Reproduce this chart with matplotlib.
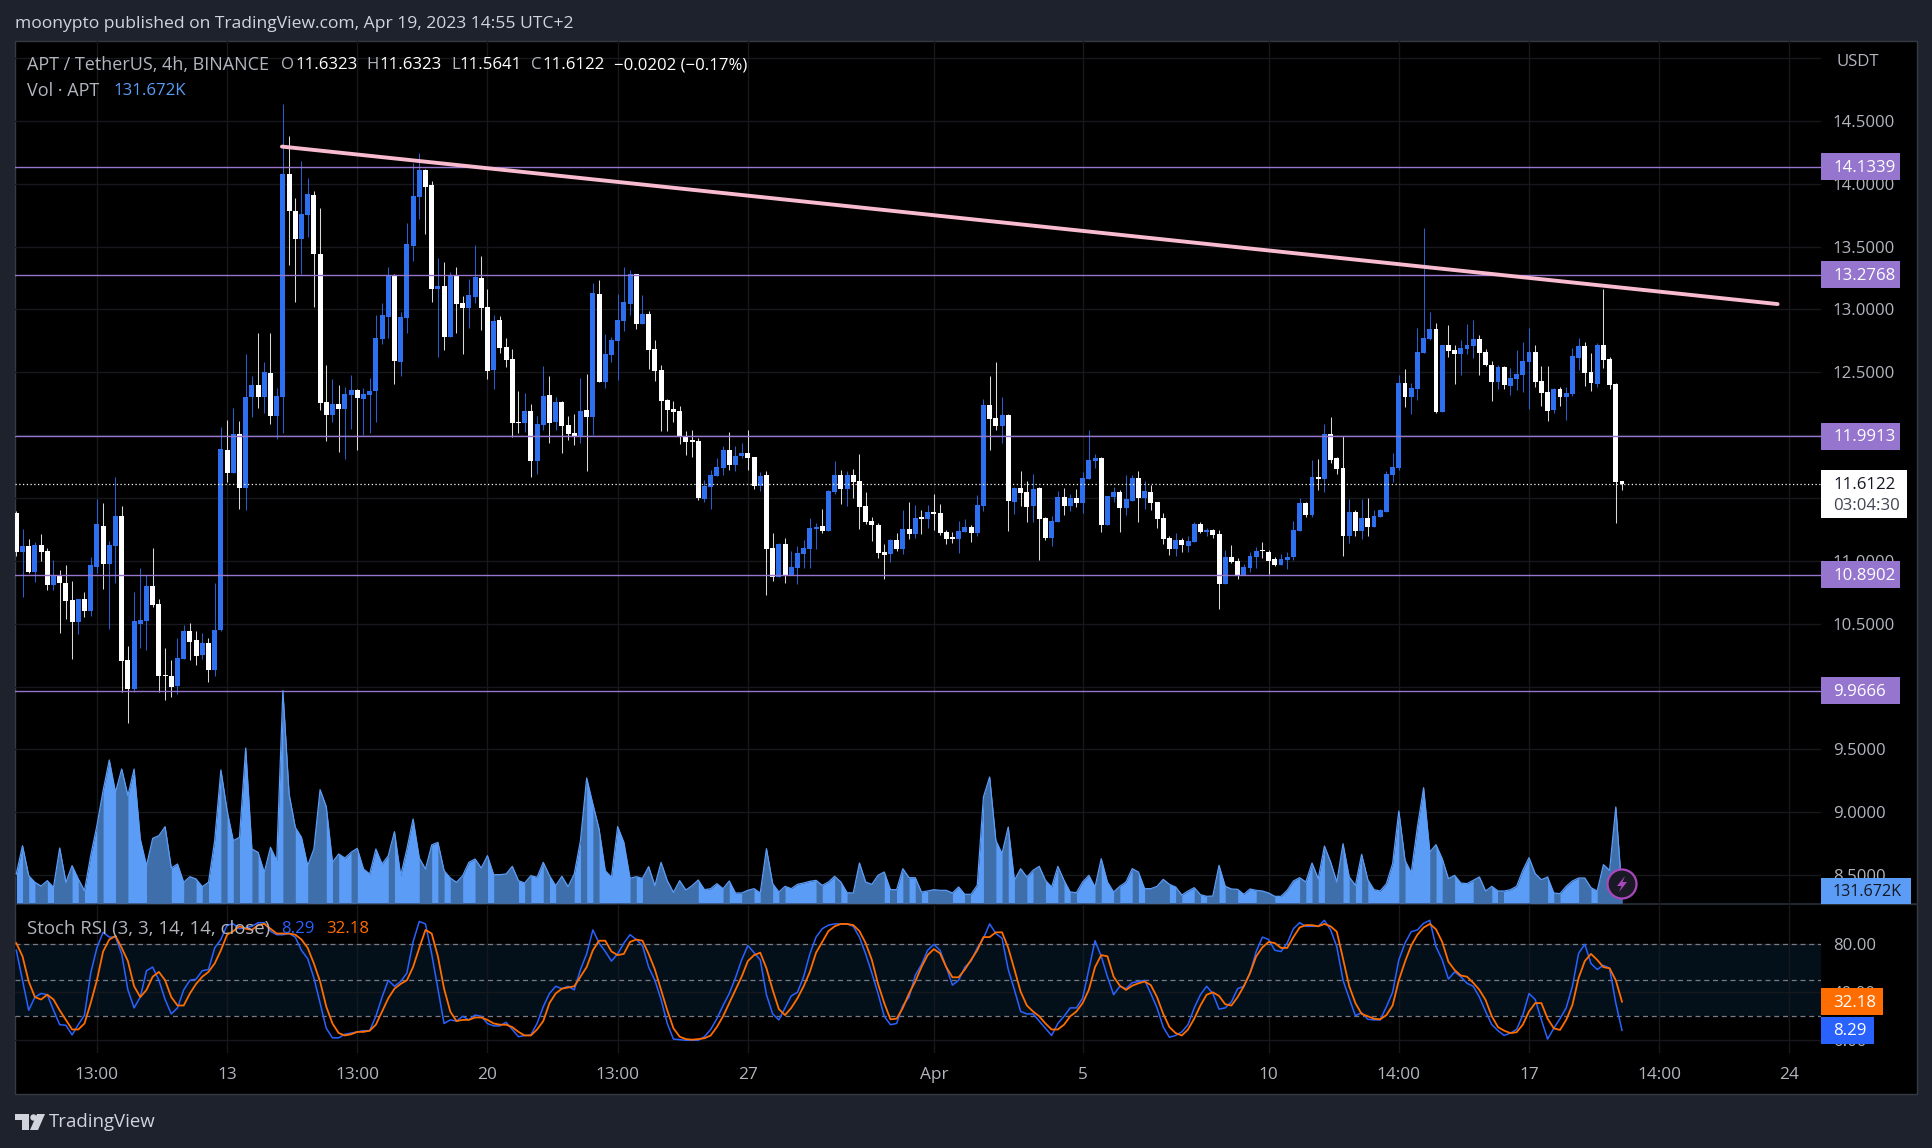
import matplotlib
matplotlib.use("Agg")
import matplotlib.pyplot as plt
import matplotlib.transforms as mtrans
from matplotlib.patches import Circle, Polygon, Rectangle

plt.rcParams['font.family'] = ['Open Sans', 'DejaVu Sans']

W, H = 1932, 1148

# 4h candles
opens = [
    11.38, 11.07, 11.12, 10.91, 11.13, 11.08, 10.81, 10.89, 10.82, 10.69,
    10.51, 10.70, 10.60, 10.95, 11.28, 10.975, 11.12, 11.36, 10.21, 9.98,
    10.50, 10.52, 10.80, 10.66, 10.085, 10.08, 10.005, 10.22, 10.44, 10.37,
    10.25, 10.35, 10.13, 10.45, 11.88, 11.70, 12.01, 11.58, 12.30, 12.40,
    12.30, 12.495, 12.155, 12.30, 14.08, 13.78, 13.56, 13.75, 13.91, 13.44,
    12.265, 12.16, 12.25, 12.21, 12.32, 12.36, 12.29, 12.32, 12.35, 12.765,
    12.94, 13.274, 12.58, 12.932, 13.505, 13.895, 14.11, 13.99, 13.163, 13.187,
    12.78, 13.274, 13.05, 13.01, 13.10, 13.25, 13.02, 12.52, 12.917, 12.70,
    12.607, 12.103, 12.097, 12.193, 11.795, 12.08, 12.32, 12.105, 12.264, 12.08,
    12.018, 11.986, 12.201, 12.145, 13.124, 12.424, 12.638, 12.75, 12.909, 13.044,
    13.283, 12.885, 12.965, 12.686, 12.519, 12.28, 12.209, 12.193, 11.994, 11.95,
    11.954, 11.493, 11.588, 11.676, 11.74, 11.883, 11.763, 11.835, 11.859, 11.827,
    11.596, 11.684, 11.103, 10.872, 11.135, 10.888, 10.944, 11.055, 11.095, 11.254,
    11.278, 11.238, 11.548, 11.684, 11.572, 11.684, 11.636, 11.437, 11.318, 11.286,
    11.071, 11.055, 11.166, 11.095, 11.254, 11.214, 11.343, 11.334, 11.389, 11.381,
    11.23, 11.19, 11.174, 11.23, 11.27, 11.222, 11.437, 12.24, 12.137, 12.073,
    12.161, 11.469, 11.58, 11.548, 11.437, 11.58, 11.341, 11.182, 11.31, 11.509,
    11.437, 11.5, 11.461, 11.652, 11.795, 11.819, 11.286, 11.509, 11.548, 11.421,
    11.477, 11.66, 11.5, 11.548, 11.469, 11.341, 11.182, 11.095, 11.166, 11.118,
    11.15, 11.294, 11.23, 11.246, 11.214, 10.816, 11.031, 10.999, 10.888, 10.944,
    11.031, 11.08, 11.071, 11.015, 10.967, 11.007, 11.031, 11.238, 11.461, 11.365,
    11.668, 11.652, 12.01, 11.819, 11.739, 11.198, 11.389, 11.238, 11.341, 11.27,
    11.35, 11.39, 11.683, 11.738, 12.415, 12.303, 12.367, 12.653, 12.765, 12.844,
    12.184, 12.717, 12.677, 12.645, 12.685, 12.709, 12.765, 12.661, 12.558, 12.423,
    12.542, 12.391, 12.447, 12.479, 12.582, 12.661, 12.431, 12.343, 12.2, 12.367,
    12.303, 12.327, 12.614, 12.709, 12.502, 12.407, 12.717, 12.606, 12.407, 11.6323,
]
closes = [
    11.07, 11.12, 10.91, 11.13, 11.07, 10.81, 10.89, 10.82, 10.68, 10.51,
    10.70, 10.60, 10.97, 11.29, 10.975, 11.13, 11.36, 10.20, 9.98, 10.52,
    10.53, 10.80, 10.65, 10.08, 10.08, 10.0, 10.23, 10.44, 10.355, 10.24,
    10.35, 10.13, 10.45, 11.89, 11.70, 12.01, 11.58, 12.30, 12.40, 12.30,
    12.505, 12.155, 12.31, 14.08, 13.78, 13.56, 13.76, 13.92, 13.44, 12.256,
    12.16, 12.25, 12.21, 12.33, 12.36, 12.295, 12.33, 12.35, 12.773, 12.956,
    13.274, 12.59, 12.94, 13.52, 13.903, 14.11, 13.975, 13.163, 13.187, 12.78,
    13.274, 13.044, 13.01, 13.115, 13.258, 13.01, 12.51, 12.91, 12.694, 12.60,
    12.097, 12.095, 12.193, 11.795, 12.09, 12.312, 12.097, 12.264, 12.073, 12.01,
    11.994, 12.193, 12.145, 13.132, 12.424, 12.646, 12.758, 12.917, 13.06, 13.283,
    12.885, 12.965, 12.678, 12.511, 12.272, 12.2, 12.185, 11.986, 11.946, 11.946,
    11.5, 11.596, 11.684, 11.747, 11.883, 11.763, 11.835, 11.859, 11.819, 11.596,
    11.676, 11.095, 10.872, 11.135, 10.888, 10.951, 11.063, 11.103, 11.262, 11.27,
    11.238, 11.556, 11.684, 11.572, 11.684, 11.628, 11.429, 11.31, 11.286, 11.063,
    11.047, 11.166, 11.095, 11.254, 11.214, 11.341, 11.336, 11.389, 11.373, 11.222,
    11.174, 11.174, 11.238, 11.27, 11.222, 11.445, 12.24, 12.129, 12.073, 12.161,
    11.477, 11.58, 11.54, 11.429, 11.572, 11.333, 11.182, 11.318, 11.509, 11.437,
    11.5, 11.461, 11.66, 11.803, 11.819, 11.286, 11.516, 11.548, 11.421, 11.493,
    11.66, 11.5, 11.556, 11.461, 11.333, 11.174, 11.095, 11.166, 11.126, 11.158,
    11.294, 11.23, 11.246, 11.206, 10.816, 11.031, 10.991, 10.888, 10.951, 11.039,
    11.079, 11.075, 10.999, 10.967, 11.015, 11.031, 11.246, 11.461, 11.365, 11.668,
    11.652, 12.01, 11.803, 11.731, 11.198, 11.389, 11.238, 11.341, 11.27, 11.357,
    11.405, 11.691, 11.746, 12.415, 12.303, 12.375, 12.661, 12.773, 12.844, 12.184,
    12.717, 12.669, 12.645, 12.693, 12.717, 12.765, 12.653, 12.558, 12.423, 12.542,
    12.399, 12.455, 12.487, 12.59, 12.661, 12.423, 12.335, 12.192, 12.367, 12.303,
    12.335, 12.63, 12.709, 12.494, 12.415, 12.717, 12.598, 12.399, 11.627, 11.6122,
]
highs = [
    11.40, 11.25, 11.17, 11.15, 11.21, 11.10, 11.01, 10.93, 10.97, 10.84,
    10.70, 10.75, 11.03, 11.49, 11.46, 11.16, 11.67, 11.44, 10.32, 10.75,
    10.94, 10.89, 11.10, 10.70, 10.31, 10.21, 10.39, 10.49, 10.505, 10.44,
    10.43, 10.39, 10.82, 12.065, 12.12, 12.22, 12.11, 12.646, 12.47, 12.81,
    12.58, 12.81, 12.373, 14.635, 14.38, 13.887, 14.18, 14.05, 13.94, 13.81,
    12.558, 12.447, 12.40, 12.383, 12.48, 12.37, 12.375, 12.455, 12.956, 13.05,
    13.338, 13.28, 12.98, 13.688, 14.166, 14.245, 14.12, 14.02, 13.41, 13.378,
    13.30, 13.338, 13.107, 13.243, 13.513, 13.426, 13.164, 12.957, 12.949, 12.774,
    12.686, 12.352, 12.336, 12.248, 12.153, 12.551, 12.471, 12.304, 12.272, 12.153,
    12.169, 12.455, 12.487, 13.211, 13.235, 12.806, 12.782, 13.124, 13.339, 13.315,
    13.283, 13.116, 12.989, 12.758, 12.559, 12.288, 12.272, 12.233, 12.034, 12.042,
    11.978, 11.64, 11.724, 11.816, 11.914, 12.026, 11.914, 11.938, 12.042, 11.83,
    11.707, 11.715, 11.222, 11.143, 11.182, 11.079, 11.12, 11.166, 11.342, 11.302,
    11.413, 11.56, 11.795, 11.723, 11.715, 11.731, 11.851, 11.548, 11.35, 11.302,
    11.134, 11.17, 11.222, 11.405, 11.469, 11.445, 11.405, 11.445, 11.532, 11.453,
    11.246, 11.23, 11.318, 11.334, 11.286, 11.524, 12.288, 12.471, 12.583, 12.304,
    12.17, 11.588, 11.715, 11.636, 11.691, 11.584, 11.35, 11.357, 11.556, 11.58,
    11.532, 11.572, 11.707, 12.042, 11.851, 11.825, 11.52, 11.588, 11.564, 11.683,
    11.684, 11.715, 11.636, 11.604, 11.47, 11.381, 11.198, 11.222, 11.182, 11.198,
    11.31, 11.31, 11.262, 11.254, 11.246, 11.087, 11.126, 11.023, 10.975, 11.071,
    11.111, 11.15, 11.087, 11.031, 11.055, 11.071, 11.318, 11.501, 11.47, 11.803,
    11.811, 12.089, 12.145, 11.825, 11.994, 11.493, 11.405, 11.493, 11.5, 11.405,
    11.413, 11.715, 11.855, 12.478, 12.526, 12.415, 12.852, 13.648, 12.98, 12.892,
    12.72, 12.876, 12.717, 12.757, 12.884, 12.916, 12.797, 12.685, 12.59, 12.558,
    12.55, 12.534, 12.677, 12.741, 12.852, 12.717, 12.55, 12.55, 12.375, 12.383,
    12.383, 12.693, 12.773, 12.741, 12.654, 12.733, 13.163, 12.622, 12.415, 11.6323,
]
lows = [
    11.04, 10.715, 10.90, 10.83, 11.0, 10.77, 10.77, 10.43, 10.54, 10.22,
    10.42, 10.55, 10.56, 10.90, 10.78, 10.46, 10.82, 9.96, 9.71, 9.96,
    10.31, 10.29, 10.63, 9.96, 9.89, 9.92, 9.94, 10.22, 10.21, 10.17,
    10.22, 10.04, 10.08, 10.44, 11.63, 11.70, 11.41, 11.405, 12.147, 12.22,
    12.18, 12.09, 11.97, 12.02, 13.354, 13.06, 13.28, 13.58, 13.02, 12.2,
    11.954, 12.105, 11.866, 11.813, 12.05, 11.882, 12.0, 12.02, 12.105, 12.725,
    12.773, 12.407, 12.47, 12.813, 13.386, 13.72, 13.60, 13.06, 12.62, 12.678,
    12.78, 12.813, 12.646, 12.853, 13.05, 12.837, 12.447, 12.368, 12.654, 12.543,
    11.986, 12.018, 12.026, 11.668, 11.69, 12.04, 11.938, 12.042, 11.859, 11.962,
    11.922, 11.938, 11.715, 12.0, 12.42, 12.376, 12.583, 12.44, 12.83, 12.957,
    12.845, 12.885, 12.527, 12.432, 12.034, 12.034, 12.105, 11.93, 11.843, 11.827,
    11.485, 11.47, 11.413, 11.676, 11.684, 11.723, 11.715, 11.82, 11.723, 11.572,
    11.556, 10.729, 10.84, 10.872, 10.824, 10.888, 10.816, 10.944, 10.944, 11.095,
    11.222, 11.238, 11.532, 11.453, 11.437, 11.5, 11.254, 11.294, 11.158, 11.023,
    10.856, 10.99, 11.079, 11.055, 11.174, 11.182, 11.214, 11.262, 11.246, 11.206,
    11.134, 11.142, 11.063, 11.23, 11.15, 11.198, 11.397, 11.882, 12.042, 11.938,
    11.238, 11.373, 11.437, 11.31, 11.31, 11.007, 11.166, 11.118, 11.31, 11.365,
    11.397, 11.429, 11.381, 11.652, 11.739, 11.23, 11.286, 11.469, 11.23, 11.365,
    11.477, 11.31, 11.413, 11.405, 11.262, 11.134, 11.047, 11.039, 11.071, 11.071,
    11.15, 11.222, 11.198, 11.182, 10.617, 10.816, 10.983, 10.856, 10.888, 10.912,
    10.944, 11.023, 10.896, 10.959, 10.967, 10.936, 11.007, 11.238, 11.349, 11.349,
    11.564, 11.548, 11.779, 11.691, 11.039, 11.142, 11.198, 11.174, 11.198, 11.27,
    11.35, 11.39, 11.63, 11.72, 12.224, 12.168, 12.279, 12.65, 12.76, 12.176,
    12.184, 12.622, 12.407, 12.478, 12.645, 12.614, 12.478, 12.55, 12.272, 12.367,
    12.367, 12.319, 12.359, 12.343, 12.208, 12.383, 12.232, 12.112, 12.176, 12.232,
    12.12, 12.311, 12.518, 12.391, 12.351, 12.383, 12.534, 12.367, 11.3, 11.5641,
]

# volume in thousands of APT
volumes = [
    348, 688, 328, 248, 204, 268, 188, 660, 248, 448,
    288, 148, 568, 928, 1348, 1716, 1328, 1608, 1288, 1608,
    768, 448, 776, 808, 916, 420, 468, 248, 316, 288,
    196, 248, 748, 1596, 1108, 748, 788, 1860, 648, 608,
    368, 668, 508, 2548, 1308, 908, 788, 448, 648, 1360,
    1156, 488, 588, 540, 608, 656, 408, 348, 648, 468,
    568, 856, 328, 648, 1008, 540, 408, 696, 728, 388,
    300, 248, 328, 488, 528, 420, 568, 340, 340, 348,
    440, 268, 240, 328, 308, 488, 328, 208, 320, 196,
    348, 748, 1500, 1188, 888, 388, 308, 916, 728, 296,
    316, 296, 436, 208, 488, 268, 128, 268, 156, 208,
    276, 160, 172, 232, 172, 264, 120, 120, 152, 172,
    120, 652, 232, 132, 200, 172, 224, 240, 260, 272,
    212, 252, 320, 252, 124, 120, 480, 252, 224, 332,
    372, 160, 160, 412, 304, 304, 132, 144, 160, 152,
    152, 120, 192, 104, 104, 212, 1272, 1512, 752, 592,
    912, 272, 412, 312, 392, 440, 272, 192, 440, 272,
    132, 124, 252, 332, 192, 532, 252, 132, 200, 252,
    412, 372, 172, 172, 200, 284, 224, 192, 96, 144,
    184, 100, 80, 84, 452, 200, 168, 164, 104, 168,
    152, 144, 120, 80, 80, 152, 264, 304, 252, 480,
    292, 684, 492, 252, 712, 312, 212, 584, 280, 160,
    144, 232, 472, 1104, 512, 364, 912, 1384, 612, 700,
    532, 292, 332, 240, 232, 272, 312, 144, 200, 144,
    144, 160, 200, 392, 544, 352, 280, 312, 120, 112,
    200, 264, 300, 300, 184, 144, 460, 392, 1152, 131.672,
]

# Stoch RSI, %K then %D
stoch_k = [
    75, 50, 25, 36, 39, 38, 25, 13, 12.5, 4.5,
    13, 21, 56, 77, 90, 86, 86, 72, 42, 27,
    36, 58, 61, 50, 34, 22, 27, 42, 50, 51,
    58, 59, 77, 84, 96, 97, 93, 94, 95, 98,
    98, 91, 88, 88, 89, 86, 75, 68, 52, 31,
    10, 2, 2, 5, 6, 7, 8, 8, 20, 36,
    50, 45, 49, 56, 82, 99, 97, 72, 43, 14,
    17, 16, 20, 17, 21, 20, 14, 12, 12, 15,
    9, 3, 4, 4.5, 14, 28, 39, 45, 43, 45,
    42, 59, 72, 92, 81, 74, 66, 72, 81, 88,
    84, 79, 61, 50, 34, 14, 1, 0.5, 0, 0,
    0, 3, 9, 18, 29, 39, 52, 67, 79, 73,
    67, 38, 22, 17, 27, 37, 40, 53, 72, 86,
    93, 96, 97, 97, 97, 95, 86, 72, 56, 39,
    20, 13, 14, 29, 36, 54, 63, 75, 80, 75,
    61, 46, 50, 61, 66, 77, 85, 97, 89, 85,
    59, 42, 24, 22, 22, 16, 10, 4, 14, 20,
    27, 27, 35, 59, 83, 70, 53, 38, 45, 43,
    48, 49, 50, 39, 27, 11, 2.5, 4, 7, 13,
    27, 38, 45, 39, 26, 27, 32, 43, 45, 56,
    74, 86, 84, 75, 74, 81, 93, 98, 95, 95,
    95, 100, 92, 78, 50, 35, 20.5, 23, 17.5, 17,
    17, 28, 40, 67, 81, 90.5, 92, 97.5, 100, 78,
    67, 51, 57, 53, 47.5, 45, 36, 24, 13, 8,
    4, 6, 9, 21, 39, 34, 17, 1, 10, 18,
    27, 45, 72.5, 80, 64, 59, 62.5, 60, 31, 8.29,
]
stoch_d = [
    81, 70, 49, 36, 34, 38, 34, 25, 17, 9,
    9, 14, 31, 50, 74, 84, 87, 77, 66, 45,
    36, 42, 53, 57, 50, 36, 29, 29, 39, 47,
    53, 57, 64, 75, 88, 91, 95, 93, 92, 96,
    97, 93, 89, 89, 89, 88, 84, 77, 64, 49,
    28, 14, 6, 4, 5, 7, 7, 8, 13, 24,
    35, 43, 47, 50, 61, 77, 92, 89, 70, 43,
    24, 16, 17, 17, 19, 19, 17, 14, 13, 13,
    11, 7, 4, 4, 9, 16, 31, 39, 43, 44,
    45, 53, 61, 75, 83, 83, 74, 71, 72, 82,
    84, 83, 72, 59, 42, 25, 10, 3, 1, 0.5,
    1, 1.7, 4, 11, 20, 31, 42, 53, 66, 71,
    73, 60, 42, 26, 21, 27, 35, 45, 57, 73,
    82, 91, 95, 97, 97, 96, 91, 81, 67, 47,
    31, 17.5, 18, 27, 39, 49, 61, 71, 76, 72.5,
    61, 52.5, 52.5, 59, 67, 75, 86, 86, 90, 90,
    77, 59, 40.5, 29, 24, 20, 14, 9, 9, 13,
    20, 24, 31, 42, 61, 71, 70, 53, 45.5, 42,
    45.5, 47.5, 49, 46, 36, 22, 11, 6, 4, 9,
    18, 29, 38, 40, 37, 30, 29, 36, 45, 56,
    70, 77.5, 82, 81, 77, 77, 86, 94, 96, 96,
    95, 97, 95, 90.5, 68, 45, 31, 22, 20, 18,
    17.5, 21, 29, 50, 65.5, 79, 88, 94, 97, 92.5,
    82, 65.5, 58.6, 54, 53, 48, 42, 33.6, 20, 11,
    8, 6, 6.7, 13, 24, 31, 31, 18, 10, 8.6,
    17, 29.4, 52, 66, 72, 67, 61, 60, 50, 32.18,
]

price_ticks = [15.0, 14.5, 14.0, 13.5, 13.0, 12.5, 12.0, 11.5, 11.0, 10.5, 10.0, 9.5, 9.0, 8.5]
price_ticks_shown = [14.5, 14.0, 13.5, 13.0, 12.5, 12.0, 11.5, 11.0, 10.5, 10.0, 9.5, 9.0, 8.5]
level_prices = [14.1339, 13.2768, 11.9913, 10.8902, 9.9666]
level_labels = ['14.1339', '13.2768', '11.9913', '10.8902', '9.9666']
last_price = 11.6122
trend_bars = [42.85, 284.1]
trend_prices = [14.296, 13.043]

time_ticks = [13, 34, 55, 76, 97, 118, 148, 172, 202, 223, 244, 265, 286]
time_labels = ['13:00', '13', '13:00', '20', '13:00', '27', 'Apr', '5', '10', '14:00', '17', '14:00', '24']

BG = '#1e222d'
GRID = '#16181d'
UP = '#2e6ff0'
DOWN = '#ffffff'
VOL_UP = '#5b9cf6'
VOL_DOWN = '#3f6fab'
LEVEL = '#9575cd'
AXIS_TXT = '#b2b5be'
FS = 12.1


def pane(x0, y0, x1, y1):
    return [x0 / W, 1 - y1 / H, (x1 - x0) / W, (y1 - y0) / H]


fig = plt.figure(figsize=(W / 100, H / 100), dpi=100, facecolor=BG)

# black chart card behind everything, px coords for the chrome
back = fig.add_axes([0, 0, 1, 1], zorder=0)
back.set_xlim(0, W)
back.set_ylim(H, 0)
back.axis('off')
back.add_patch(Rectangle((15, 41), 1902, 1053, fc='black', ec='#363a45', lw=1))

ax = fig.add_axes(pane(15, 41, 1821, 904), zorder=1)
ax.set_facecolor('none')
ax.set_xlim(-0.21, 291.1)
ax.set_ylim(8.27, 15.136)

sax = fig.add_axes(pane(15, 904, 1821, 1053), zorder=1)
sax.set_facecolor('none')
sax.set_xlim(-0.21, 291.1)
sax.set_ylim(-10.6, 113.6)

vax = fig.add_axes(pane(15, 41, 1821, 904), zorder=2)
vax.set_facecolor('none')
vax.set_xlim(-0.21, 291.1)
vax.set_ylim(-12, 10344)
vax.axis('off')

top = fig.add_axes([0, 0, 1, 1], zorder=5)
top.set_xlim(0, W)
top.set_ylim(H, 0)
top.set_facecolor('none')
top.axis('off')

for a in (ax, sax):
    for s in a.spines.values():
        s.set_visible(False)
    a.set_xticks(time_ticks)
    a.grid(True, color=GRID, lw=1)
    a.set_axisbelow(True)
    a.yaxis.tick_right()

ax.set_yticks(price_ticks)
ax.set_yticklabels(['' if p not in price_ticks_shown else f'{p:.4f}' for p in price_ticks])
ax.tick_params(axis='y', length=0, labelsize=FS, labelcolor=AXIS_TXT, pad=8.5)
ax.tick_params(axis='x', length=0, labelbottom=False)

# candles
bars = list(range(len(opens)))
colors = [UP if c >= o else DOWN for o, c in zip(opens, closes)]
ax.vlines(bars, lows, highs, colors=colors, lw=0.75, alpha=0.85, zorder=3)
ax.bar(bars, [max(abs(c - o), 0.012) for o, c in zip(opens, closes)],
       bottom=[min(o, c) for o, c in zip(opens, closes)],
       width=0.8, color=colors, lw=0, zorder=4)

# levels and trendline sit over the candles
for p in level_prices:
    ax.axhline(p, color=LEVEL, lw=1.0, zorder=5)
ax.axhline(last_price, color='white', lw=0.9, ls=(0, (1, 2)), zorder=5)
ax.plot(trend_bars, trend_prices, color='#f8bbd0', lw=2.8, solid_capstyle='round', zorder=6)

# volume: each segment takes the colour of the bar it leads to. Light base first,
# then runs of down bars on top, so neighbouring segments leave no seams.
vax.fill_between(bars, volumes, 0, color=VOL_UP, lw=0)
i = 1
while i < len(volumes):
    if closes[i] >= opens[i]:
        i += 1
        continue
    j = i
    while j + 1 < len(volumes) and closes[j + 1] < opens[j + 1]:
        j += 1
    vax.fill_between(bars[i - 1:j + 1], volumes[i - 1:j + 1], 0, color=VOL_DOWN, lw=0)
    i = j + 1
vax.plot(bars, volumes, color=VOL_UP, lw=0.9)

# stoch rsi pane
sax.set_yticks([80, 40, 0])
sax.set_yticklabels(['80.00', '40.00', '0.00'])
sax.tick_params(axis='y', length=0, labelsize=FS, labelcolor=AXIS_TXT, pad=8.5)
sax.set_xticklabels(time_labels)
sax.tick_params(axis='x', length=0, labelsize=12.4, labelcolor=AXIS_TXT, pad=10)
sax.axhspan(20, 80, color='#03101a', lw=0, zorder=0.5)
for lvl in (80, 50, 20):
    sax.axhline(lvl, color='#787b86', lw=0.9, ls=(0, (4, 3)), zorder=1.5)
sax.plot(bars, stoch_k, color='#2962ff', lw=1.1, zorder=3)
sax.plot(bars, stoch_d, color='#ff6d00', lw=1.3, zorder=4)

# pane separator
back.plot([15, 1917], [904, 904], color='#2a2e39', lw=1.2, zorder=3)
top.plot([1821, 1917], [904, 904], color='#2a2e39', lw=1.0)

# price scale tags, y follows the axis the value belongs to
fig.canvas.draw()
to_px = top.transData.inverted()


def tag(a, value, x1, fc, label):
    py = to_px.transform(a.transData.transform((0, value)))[1]
    top.add_patch(Rectangle((1821, py - 13.5), x1 - 1821, 27, fc=fc, ec='none', zorder=6))
    top.text(1833, py + 1, label, color='white', fontsize=FS, va='center', ha='left', zorder=7)


for p, lab in zip(level_prices, level_labels):
    tag(ax, p, 1900, LEVEL, lab)
tag(sax, 32.18, 1883, '#ff6d00', '32.18')
tag(sax, 8.29, 1874, '#2962ff', '8.29')

top.add_patch(Rectangle((1821, 470), 86, 48, fc='white', ec='none', zorder=6))
top.text(1833, 485, '11.6122', color='#131722', fontsize=FS, va='center', zorder=7)
top.text(1833, 506, '03:04:30', color='#434651', fontsize=FS, va='center', zorder=7)
top.add_patch(Rectangle((1821, 878), 90, 26, fc=VOL_UP, ec='none', zorder=6))
top.text(1833, 892, '131.672K', color='#131722', fontsize=11.6, va='center', zorder=7)
top.text(1837, 62, 'USDT', color=AXIS_TXT, fontsize=FS, va='center')

# header, legend lines
GREY = '#b2b5be'
top.text(15, 24, 'moonypto published on TradingView.com, Apr 19, 2023 14:55 UTC+2',
         color='#d1d4dc', fontsize=12.6, va='center')
for x, s, c, fs in [(27, 'APT / TetherUS, 4h, BINANCE', GREY, 13), (281, 'O', GREY, FS), (295, '11.6323', 'white', FS),
                    (366, 'H', GREY, FS), (379, '11.6323', 'white', FS), (451, 'L', GREY, FS), (459, '11.5641', 'white', FS),
                    (531, 'C', GREY, FS), (542, '11.6122', 'white', FS), (614, '\u22120.0202 (\u22120.17%)', 'white', FS)]:
    top.text(x, 65, s, color=c, fontsize=fs, va='center')
top.text(27, 91, 'Vol \u00b7 APT', color=GREY, fontsize=13, va='center')
top.text(113, 91, '131.672K', color=VOL_UP, fontsize=FS, va='center')
top.text(27, 929, 'Stoch RSI (3, 3, 14, 14, close)', color=GREY, fontsize=13.4, va='center')
top.text(281, 929, '8.29', color='#2962ff', fontsize=FS, va='center')
top.text(326, 929, '32.18', color='#ff6d00', fontsize=FS, va='center')

# lightning badge on the last bar
top.add_patch(Circle((1622, 884), 14.5, fc='#1a1a26', ec='#ab47bc', lw=1.6, zorder=6))
top.add_patch(Polygon([(1625, 876), (1617, 886), (1621.5, 886), (1619, 892), (1627, 882), (1622.5, 882)],
                      fc='#ab47bc', ec='none', zorder=7))

# TradingView logo, footer
LOGO = '#d1d4dc'
top.add_patch(Polygon([(15, 1114), (29, 1114), (29, 1130), (22, 1130), (22, 1120), (15, 1120)], fc=LOGO, ec='none'))
top.add_patch(Circle((33.5, 1117.5), 3.2, fc=LOGO, ec='none'))
top.add_patch(Polygon([(37, 1114), (45, 1114), (38, 1130), (30, 1130)], fc=LOGO, ec='none'))
top.text(49, 1122, 'TradingView', color='#d1d4dc', fontsize=13.4, va='center')

fig.savefig('out.png', dpi=100, facecolor=BG)
